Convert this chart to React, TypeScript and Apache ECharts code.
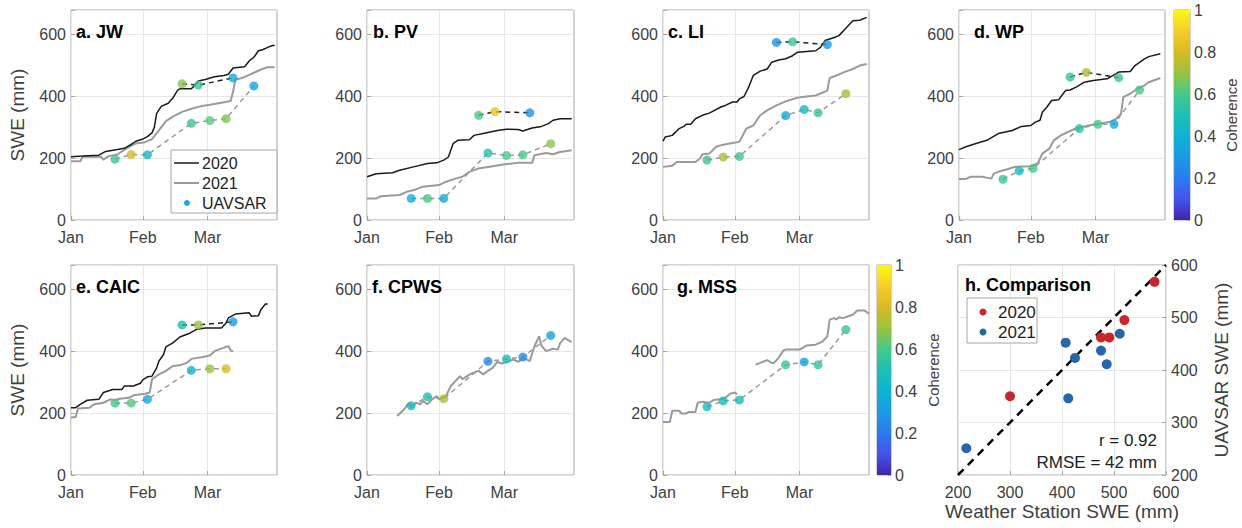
import React, { useEffect, useRef } from 'react';
import * as echarts from 'echarts';

// ---------------- data ----------------
const DAY_COUNT = 90; // Jan 1 .. Mar 31 (day index)
const MONTH_TICKS: [number, string][] = [[0, 'Jan'], [31, 'Feb'], [59, 'Mar']];
const SWE_MAX = 680;
const SWE_STEP = 200;
const COHERENCE_RANGE = [0, 1];

// station SWE (day index, mm)
const JW_2020 = [[0,205],[5,207],[12,210],[15,222],[20,228],[23,232],[26,245],[28,255],[31,262],[33,270],[35,282],[36,300],[37,345],[39,368],[42,378],[44,395],[46,420],[47,425],[52,425],[54,440],[55,450],[58,455],[62,464],[66,468],[68,472],[70,492],[75,496],[77,515],[79,527],[81,548],[83,552],[85,559],[87,565],[88,565]];
const JW_2021 = [[0,190],[4,190],[5,205],[13,205],[14,195],[16,206],[20,212],[24,232],[28,248],[32,252],[35,262],[38,290],[41,320],[44,335],[48,350],[52,360],[56,368],[60,373],[65,380],[69,385],[70,415],[71,455],[74,460],[77,470],[80,480],[83,490],[85,495],[88,495]];
const JW_UAV_2020 = [[48,441,0.68],[55,437,0.57],[70,460,0.35]];
const JW_UAV_2021 = [[19,197,0.58],[26,212,0.8],[33,211,0.45],[52,313,0.58],[60,322,0.63],[67,328,0.67],[79,434,0.35]];

const PV_2020 = [[0,140],[4,150],[11,153],[14,161],[20,172],[26,183],[30,185],[33,194],[35,204],[37,247],[39,258],[44,260],[46,274],[51,282],[56,290],[60,294],[65,293],[67,288],[71,298],[75,303],[78,312],[80,323],[83,328],[88,328]];
const PV_2021 = [[0,70],[4,70],[6,77],[14,81],[17,91],[21,99],[24,108],[31,113],[34,124],[38,134],[41,140],[44,156],[48,167],[54,174],[60,181],[65,185],[71,185],[72,210],[77,217],[80,213],[83,220],[88,226]];
const PV_UAV_2020 = [[48,339,0.6],[55,351,0.85],[70,347,0.28]];
const PV_UAV_2021 = [[19,70,0.38],[26,70,0.6],[33,70,0.38],[52,217,0.52],[60,209,0.6],[67,211,0.6],[79,247,0.68]];

const LI_2020 = [[0,255],[1,269],[4,274],[7,296],[9,303],[10,310],[12,310],[14,328],[17,339],[20,346],[25,366],[27,371],[30,382],[32,382],[33,392],[35,400],[37,430],[39,468],[42,482],[45,489],[47,511],[50,518],[53,522],[56,532],[58,543],[62,546],[66,548],[68,559],[70,581],[74,591],[76,597],[79,621],[82,645],[85,647],[88,656]];
const LI_2021 = [[0,172],[4,176],[6,188],[14,188],[16,199],[17,213],[20,215],[23,237],[26,244],[30,249],[33,253],[36,296],[39,306],[42,339],[45,355],[49,371],[53,384],[58,396],[62,400],[66,403],[71,419],[72,460],[75,468],[78,478],[82,489],[85,500],[88,505]];
const LI_UAV_2020 = [[49,575,0.27],[56,577,0.57],[71,568,0.3]];
const LI_UAV_2021 = [[19,194,0.57],[26,204,0.72],[33,206,0.58],[53,338,0.36],[61,358,0.44],[67,347,0.57],[79,409,0.72]];

const WP_2020 = [[0,228],[3,237],[7,247],[12,258],[17,280],[23,290],[27,303],[31,306],[33,317],[35,323],[36,349],[38,366],[40,387],[43,389],[45,409],[46,419],[48,421],[51,432],[54,446],[58,452],[64,457],[69,479],[74,481],[76,500],[80,521],[82,529],[87,538]];
const WP_2021 = [[0,133],[3,133],[5,140],[10,140],[14,134],[15,150],[17,156],[22,167],[24,172],[31,174],[34,183],[36,215],[39,231],[41,258],[44,274],[47,285],[51,298],[56,306],[60,312],[65,317],[68,328],[70,344],[71,398],[74,409],[77,425],[80,435],[82,446],[87,460]];
const WP_UAV_2020 = [[48,463,0.55],[55,478,0.72],[69,461,0.57]];
const WP_UAV_2021 = [[19,132,0.57],[26,159,0.46],[32,167,0.6],[52,296,0.53],[60,310,0.6],[67,310,0.37],[78,421,0.6]];

const CAIC_2020 = [[0,218],[2,218],[4,229],[7,242],[12,245],[14,267],[18,277],[22,277],[23,288],[27,288],[30,297],[31,308],[33,318],[35,320],[37,347],[38,369],[40,390],[41,415],[44,428],[47,447],[51,458],[54,471],[58,476],[65,476],[67,492],[68,509],[71,521],[77,525],[78,514],[81,516],[82,535],[84,554],[85,554]];
const CAIC_2021 = [[0,186],[2,188],[3,215],[8,218],[10,229],[14,234],[17,245],[19,242],[21,247],[25,250],[27,258],[32,263],[34,267],[35,310],[38,326],[41,337],[44,353],[47,355],[50,363],[52,376],[57,382],[60,387],[62,401],[67,415],[68,417],[69,403],[70,401]];
const CAIC_UAV_2020 = [[48,486,0.5],[55,486,0.7],[70,496,0.3]];
const CAIC_UAV_2021 = [[19,233,0.6],[26,233,0.62],[33,245,0.35],[52,339,0.42],[60,344,0.7],[67,344,0.8]];

const CPWS_2021 = [[13,191],[16,213],[18,234],[19,218],[21,234],[23,229],[24,240],[26,229],[28,245],[30,256],[31,245],[34,256],[36,288],[38,304],[40,320],[41,310],[43,320],[45,329],[48,337],[50,326],[52,337],[54,347],[56,366],[58,361],[60,366],[63,374],[65,366],[67,380],[70,369],[72,417],[74,449],[75,419],[77,401],[80,409],[82,406],[83,426],[85,444],[86,439],[88,430]];
const CPWS_UAV_2021 = [[19,224,0.47],[26,253,0.5],[33,247,0.72],[52,368,0.25],[60,376,0.5],[67,382,0.25],[79,452,0.33]];

const MSS_2021_EARLY = [[0,172],[3,172],[4,208],[7,208],[8,199],[10,199],[11,204],[14,204],[15,234],[17,237],[20,234],[22,243],[25,245],[27,250],[29,263],[31,267],[32,261]];
const MSS_2021_LATE = [[40,358],[42,363],[45,372],[47,363],[48,363],[50,380],[52,403],[53,406],[59,406],[62,419],[66,422],[69,433],[71,449],[72,503],[74,508],[75,503],[76,511],[78,508],[80,514],[82,519],[84,533],[87,533],[89,522]];
const MSS_UAV_2021 = [[19,221,0.45],[26,240,0.47],[33,243,0.47],[53,357,0.57],[61,366,0.33],[67,357,0.55],[79,471,0.57]];

// comparison (weather station SWE, UAVSAR SWE)
const CMP_2020 = [[578,568],[520,495],[475,462],[491,462],[300,350]];
const CMP_2021 = [[216,251],[407,452],[425,423],[412,346],[475,437],[486,411],[511,469]];
const ONE_TO_ONE = [200, 600];
const CMP_R = '0.92';
const CMP_RMSE = '42';

// ---------------- style ----------------
const FONT = '"Liberation Sans", Arial, Helvetica, sans-serif';
const TXT = '#404040';
const BOX = '#a6a6a6';
const GRID_C = '#e6e6e6';
const C2020 = '#1a1a1a';
const C2021 = '#9a9a9a';
const RED = '#c9252b';
const BLUE = '#2566af';
const UAV_LEGEND = '#1aa5e8';
const PARULA = ['#3e26a8', '#4553f0', '#2a7cf0', '#1a9be6', '#0db3d4', '#1cc0b4', '#44c98a', '#98c43c', '#d9bb22', '#f8cc2c', '#f9fb0e'];
const PLOT_H = 210;

type Panel = {
  title: string; left: number; top: number; width: number; titleX: number;
  s2020?: number[][]; s2021: number[][][]; u2020?: number[][]; u2021: number[][]; yName?: boolean;
};

const PANELS: Panel[] = [
  { title: 'a. JW', left: 71, top: 10, width: 206, titleX: 76, s2020: JW_2020, s2021: [JW_2021], u2020: JW_UAV_2020, u2021: JW_UAV_2021, yName: true },
  { title: 'b. PV', left: 367, top: 10, width: 207, titleX: 373, s2020: PV_2020, s2021: [PV_2021], u2020: PV_UAV_2020, u2021: PV_UAV_2021 },
  { title: 'c. LI', left: 663, top: 10, width: 206, titleX: 668, s2020: LI_2020, s2021: [LI_2021], u2020: LI_UAV_2020, u2021: LI_UAV_2021 },
  { title: 'd. WP', left: 959, top: 10, width: 206, titleX: 974, s2020: WP_2020, s2021: [WP_2021], u2020: WP_UAV_2020, u2021: WP_UAV_2021 },
  { title: 'e. CAIC', left: 71, top: 265, width: 206, titleX: 76, s2020: CAIC_2020, s2021: [CAIC_2021], u2020: CAIC_UAV_2020, u2021: CAIC_UAV_2021, yName: true },
  { title: 'f. CPWS', left: 367, top: 265, width: 207, titleX: 372, s2021: [CPWS_2021], u2021: CPWS_UAV_2021 },
  { title: 'g. MSS', left: 663, top: 265, width: 206, titleX: 677, s2021: [MSS_2021_EARLY, MSS_2021_LATE], u2021: MSS_UAV_2021 },
];

const DAY_LABELS = Array.from({ length: DAY_COUNT }, (_, d) => {
  const t = MONTH_TICKS.find((m) => m[0] === d);
  return t ? t[1] : '';
});
const isMonth = (_i: number, v: string) => v !== '';

function buildOption() {
  const grid: any[] = [];
  const xAxis: any[] = [];
  const yAxis: any[] = [];
  const series: any[] = [];
  const scatterIdx: number[] = [];
  const graphic: any[] = [];

  PANELS.forEach((p, gi) => {
    grid.push({ left: p.left, top: p.top, width: p.width, height: PLOT_H, show: true, borderColor: BOX, borderWidth: 1 });
    xAxis.push({
      type: 'category', gridIndex: gi, data: DAY_LABELS, boundaryGap: false,
      axisLine: { show: false },
      axisTick: { show: true, inside: true, length: 4, interval: isMonth, lineStyle: { color: BOX } },
      axisLabel: { interval: isMonth, color: TXT, fontSize: 16, fontFamily: FONT, margin: 9 },
      splitLine: { show: true, interval: isMonth, lineStyle: { color: GRID_C, width: 1 } },
    });
    yAxis.push({
      type: 'value', gridIndex: gi, min: 0, max: SWE_MAX, interval: SWE_STEP,
      axisLine: { show: false },
      axisTick: { show: true, inside: true, length: 4, lineStyle: { color: BOX } },
      axisLabel: { color: TXT, fontSize: 16, fontFamily: FONT, margin: 5, formatter: (v: number) => (v % SWE_STEP === 0 ? String(v) : '') },
      splitLine: { show: true, lineStyle: { color: GRID_C, width: 1 } },
      name: p.yName ? 'SWE (mm)' : '', nameLocation: 'middle', nameGap: 44, nameRotate: 90,
      nameTextStyle: { color: TXT, fontSize: 19, fontFamily: FONT },
    });
    const base = { xAxisIndex: gi, yAxisIndex: gi, animation: false, silent: true };
    if (p.s2020) series.push({ ...base, type: 'line', name: '2020', data: p.s2020, symbol: 'none', lineStyle: { color: C2020, width: 1.5 }, z: 3 });
    p.s2021.forEach((d) => series.push({ ...base, type: 'line', name: '2021', data: d, symbol: 'none', lineStyle: { color: C2021, width: 2 }, z: 2 }));
    const uavs: [number[][] | undefined, string][] = [[p.u2020, '#222222'], [p.u2021, '#9a9a9a']];
    uavs.forEach(([u, c]) => {
      if (!u) return;
      series.push({ ...base, type: 'line', name: 'UAVSAR dash', data: u.map((q) => [q[0], q[1]]), symbol: 'none', lineStyle: { color: c, width: 1.5, type: [5, 4] }, z: 3 });
      scatterIdx.push(series.length);
      series.push({ ...base, type: 'scatter', name: 'UAVSAR', data: u, symbolSize: 9, z: 5 });
    });
    graphic.push({ type: 'text', x: p.titleX, y: p.top + 22, style: { text: p.title, font: `bold 18px ${FONT}`, fill: '#000', verticalAlign: 'middle' }, z: 10 });
  });

  // colorbars
  const cbars = [
    { left: 1174, top: 10, width: 16, gap: 34 },
    { left: 877, top: 265, width: 14, gap: 35 },
  ];
  const grad = () => new echarts.graphic.LinearGradient(0, 1, 0, 0, PARULA.map((c, i) => ({ offset: i / (PARULA.length - 1), color: c })));
  cbars.forEach((cb) => {
    const gi = grid.length;
    grid.push({ left: cb.left, top: cb.top, width: cb.width, height: PLOT_H, show: true, borderColor: BOX, borderWidth: 1 });
    xAxis.push({ type: 'category', gridIndex: gi, data: ['c'], show: false });
    yAxis.push({
      type: 'value', gridIndex: gi, min: COHERENCE_RANGE[0], max: COHERENCE_RANGE[1], interval: 0.2, position: 'right',
      axisLine: { show: false }, splitLine: { show: false },
      axisTick: { show: true, inside: true, length: 3, lineStyle: { color: BOX } },
      axisLabel: { color: TXT, fontSize: 16, fontFamily: FONT, margin: 4 },
      name: 'Coherence', nameLocation: 'middle', nameGap: cb.gap, nameRotate: 90,
      nameTextStyle: { color: TXT, fontSize: 15, fontFamily: FONT },
    });
    series.push({ type: 'bar', xAxisIndex: gi, yAxisIndex: gi, data: [COHERENCE_RANGE[1]], barWidth: '100%', itemStyle: { color: grad() }, silent: true, z: 1 });
  });

  // comparison panel
  const hi = grid.length;
  grid.push({ left: 958, top: 265, width: 208, height: PLOT_H, show: true, borderColor: BOX, borderWidth: 1 });
  xAxis.push({
    type: 'value', gridIndex: hi, min: 200, max: 600, interval: 100,
    axisLine: { show: false }, axisTick: { show: true, inside: true, length: 4, lineStyle: { color: BOX } },
    axisLabel: { color: TXT, fontSize: 16, fontFamily: FONT, margin: 9 },
    splitLine: { show: true, lineStyle: { color: GRID_C } },
    name: 'Weather Station SWE (mm)', nameLocation: 'middle', nameGap: 27,
    nameTextStyle: { color: TXT, fontSize: 19, fontFamily: FONT },
  });
  yAxis.push({
    type: 'value', gridIndex: hi, min: 200, max: 600, interval: 100, position: 'right',
    axisLine: { show: false }, axisTick: { show: true, inside: true, length: 4, lineStyle: { color: BOX } },
    axisLabel: { color: TXT, fontSize: 16, fontFamily: FONT, margin: 5 },
    splitLine: { show: true, lineStyle: { color: GRID_C } },
    name: 'UAVSAR SWE (mm)', nameLocation: 'middle', nameGap: 46, nameRotate: 90,
    nameTextStyle: { color: TXT, fontSize: 19, fontFamily: FONT },
  });
  series.push({ type: 'line', xAxisIndex: hi, yAxisIndex: hi, data: [[ONE_TO_ONE[0], ONE_TO_ONE[0]], [ONE_TO_ONE[1], ONE_TO_ONE[1]]], symbol: 'none', lineStyle: { color: '#000', width: 2.5, type: [8, 6] }, z: 3, silent: true });
  series.push({ type: 'scatter', name: 'cmp2020', xAxisIndex: hi, yAxisIndex: hi, data: CMP_2020, symbolSize: 10, itemStyle: { color: RED, opacity: 1 }, z: 5, silent: true });
  series.push({ type: 'scatter', name: 'cmp2021', xAxisIndex: hi, yAxisIndex: hi, data: CMP_2021, symbolSize: 10, itemStyle: { color: BLUE, opacity: 1 }, z: 5, silent: true });

  graphic.push({ type: 'text', x: 965, y: 285, style: { text: 'h. Comparison', font: `bold 18px ${FONT}`, fill: '#000', verticalAlign: 'middle' }, z: 10 });
  graphic.push({ type: 'text', x: 1157, y: 440, style: { text: `r = ${CMP_R}`, font: `17px ${FONT}`, fill: '#222', align: 'right', verticalAlign: 'middle' }, z: 10 });
  graphic.push({ type: 'text', x: 1157, y: 462, style: { text: `RMSE = ${CMP_RMSE} mm`, font: `17px ${FONT}`, fill: '#222', align: 'right', verticalAlign: 'middle' }, z: 10 });

  // legend panel a
  graphic.push({ type: 'rect', shape: { x: 171, y: 150, width: 106, height: 63 }, style: { fill: '#fff', stroke: BOX, lineWidth: 1 }, z: 10 });
  graphic.push({ type: 'line', shape: { x1: 174, y1: 163, x2: 199, y2: 163 }, style: { stroke: C2020, lineWidth: 1.5 }, z: 11 });
  graphic.push({ type: 'text', x: 202, y: 163, style: { text: '2020', font: `16px ${FONT}`, fill: '#222', verticalAlign: 'middle' }, z: 11 });
  graphic.push({ type: 'line', shape: { x1: 174, y1: 183, x2: 199, y2: 183 }, style: { stroke: C2021, lineWidth: 2 }, z: 11 });
  graphic.push({ type: 'text', x: 202, y: 183, style: { text: '2021', font: `16px ${FONT}`, fill: '#222', verticalAlign: 'middle' }, z: 11 });
  graphic.push({ type: 'circle', shape: { cx: 187, cy: 203, r: 3 }, style: { fill: UAV_LEGEND }, z: 11 });
  graphic.push({ type: 'text', x: 202, y: 203, style: { text: 'UAVSAR', font: `16px ${FONT}`, fill: '#222', verticalAlign: 'middle' }, z: 11 });

  // legend panel h
  graphic.push({ type: 'rect', shape: { x: 967, y: 298, width: 70, height: 45 }, style: { fill: '#fff', stroke: BOX, lineWidth: 1 }, z: 10 });
  graphic.push({ type: 'circle', shape: { cx: 983, cy: 312, r: 3.5 }, style: { fill: RED }, z: 11 });
  graphic.push({ type: 'text', x: 998, y: 312, style: { text: '2020', font: `17px ${FONT}`, fill: '#222', verticalAlign: 'middle' }, z: 11 });
  graphic.push({ type: 'circle', shape: { cx: 983, cy: 332, r: 3.5 }, style: { fill: BLUE }, z: 11 });
  graphic.push({ type: 'text', x: 998, y: 332, style: { text: '2021', font: `17px ${FONT}`, fill: '#222', verticalAlign: 'middle' }, z: 11 });

  return {
    animation: false,
    backgroundColor: '#fff',
    textStyle: { fontFamily: FONT },
    grid, xAxis, yAxis, series, graphic,
    visualMap: [{
      type: 'continuous', show: false, min: COHERENCE_RANGE[0], max: COHERENCE_RANGE[1], dimension: 2,
      seriesIndex: scatterIdx, inRange: { color: PARULA },
    }],
  };
}

export default function App() {
  const ref = useRef<HTMLDivElement>(null);
  useEffect(() => {
    const chart = echarts.init(ref.current!, null, { renderer: 'svg' });
    chart.setOption(buildOption() as any);
    return () => chart.dispose();
  }, []);
  return <div ref={ref} style={{ position: 'absolute', left: 0, top: 0, width: 1242, height: 528 }} />;
}
